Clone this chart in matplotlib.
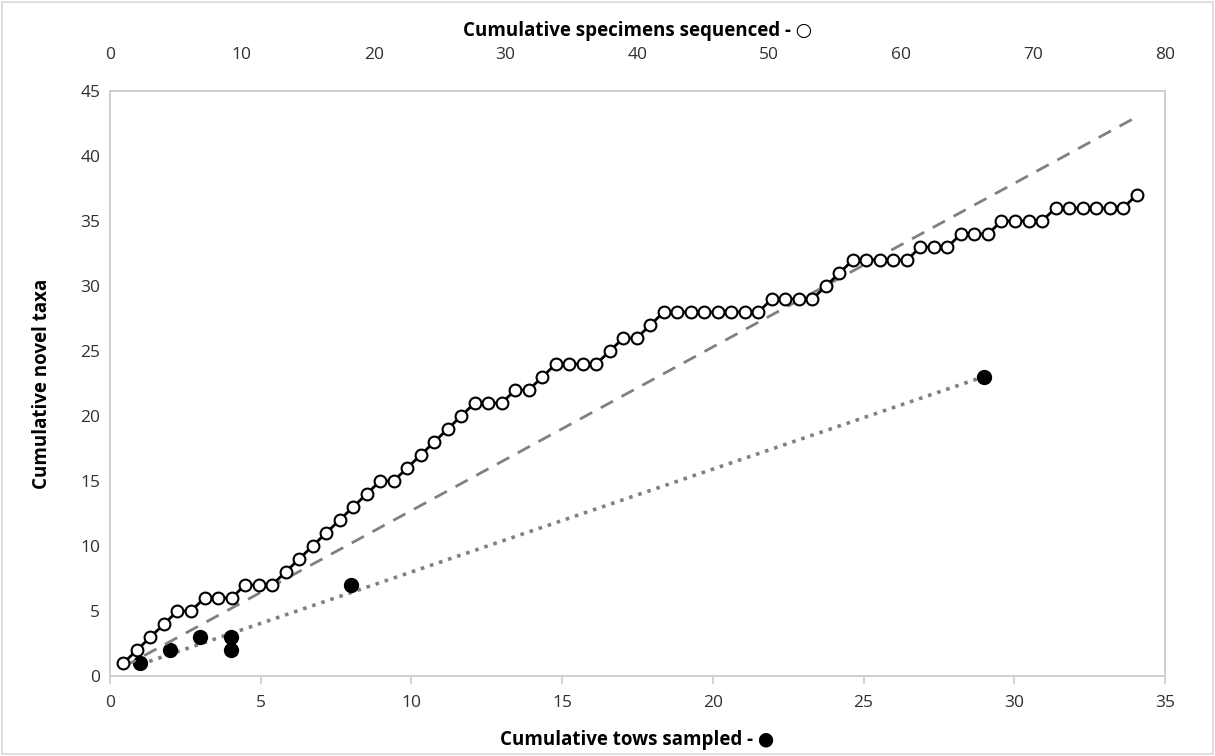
import numpy as np
import matplotlib
matplotlib.use('Agg')
import matplotlib.pyplot as plt
from matplotlib.patches import Rectangle

# cumulative novel taxa after each sequenced specimen (open circles)
spec_taxa = [1, 2, 3, 4, 5, 5, 6, 6, 6, 7, 7, 7,
             8, 9, 10, 11, 12, 13, 14, 15, 15, 16, 17,
             18, 19, 20, 21, 21, 21, 22, 22, 23, 24, 24,
             24, 24, 25, 26, 26, 27, 28, 28, 28, 28, 28,
             28, 28, 28, 29, 29, 29, 29, 30, 31, 32, 32,
             32, 32, 32, 33, 33, 33, 34, 34, 34, 35, 35,
             35, 35, 36, 36, 36, 36, 36, 36, 37]
specimens = np.arange(1, len(spec_taxa) + 1)

# cumulative tows sampled vs novel taxa (filled circles, bottom axis)
tows = [1, 2, 3, 4, 4, 8, 29]
tow_taxa = [1, 2, 3, 2, 3, 7, 23]

# dashed trend (taxa per specimen)
dash_slope = 0.564
dash_icpt = 0.14
# in the original the specimen series sits on a slightly stretched scale
spec_plot_max = 78.1

grey = '#808080'
axis_grey = '#d0d0d0'
font = ['Open Sans', 'DejaVu Sans']

fig = plt.figure(figsize=(12.15, 7.56), dpi=100)
fig.patches.append(Rectangle((0.002, 0.003), 0.996, 0.994, transform=fig.transFigure,
                             fill=False, edgecolor='#d9d9d9', lw=1.2))
ax = fig.add_axes([0.0905, 0.1058, 0.8683, 0.7738])
ax2 = ax.twiny()   # labelled top axis
ax3 = ax.twiny()   # specimen series
ax3.axis('off')

# tows series + least-squares dotted trend
b, a = np.polyfit(tows, tow_taxa, 1)
xt = np.array([min(tows), max(tows)])
ax.plot(xt, a + b * xt, ':', color=grey, lw=2.6, zorder=2)
ax.plot(tows, tow_taxa, 'o', color='black', ms=10, zorder=4)

# specimens series + dashed trend
xs = np.array([specimens[0], specimens[-1]])
ax3.plot(xs, dash_icpt + dash_slope * xs, '--', color=grey, lw=2, dashes=(5, 3.5), zorder=2)
ax3.plot(specimens, spec_taxa, '-o', color='black', lw=2, ms=8.5,
         mfc='white', mec='black', mew=1.5, zorder=3)
ax3.set_xlim(0, spec_plot_max)

ax.set_xlim(0, 35)
ax.set_ylim(0, 45)
ax.set_xticks(range(0, 36, 5))
ax.set_yticks(range(0, 46, 5))
ax2.set_xlim(0, 80)
ax2.set_xticks(range(0, 81, 10))

for a_ in (ax, ax2):
    for s in a_.spines.values():
        s.set_color(axis_grey)
        s.set_linewidth(1.3)
    a_.tick_params(labelsize=12.5, colors='#303030', length=0, pad=7)
    for lab in a_.get_xticklabels() + a_.get_yticklabels():
        lab.set_family(font)
ax.tick_params(axis='x', length=6, color=axis_grey, direction='out', width=1.3, pad=8)
ax2.tick_params(axis='x', pad=20)

ax.set_xlabel('Cumulative tows sampled - \u25cf', fontsize=13.5, fontweight='bold',
              family=font, labelpad=13)
ax2.set_xlabel('Cumulative specimens sequenced - \u25cb', fontsize=13.5, fontweight='bold',
               family=font, labelpad=8)
ax.set_ylabel('Cumulative novel taxa', fontsize=13.5, fontweight='bold',
              family=font, labelpad=20)

fig.savefig('out.png', dpi=100)
